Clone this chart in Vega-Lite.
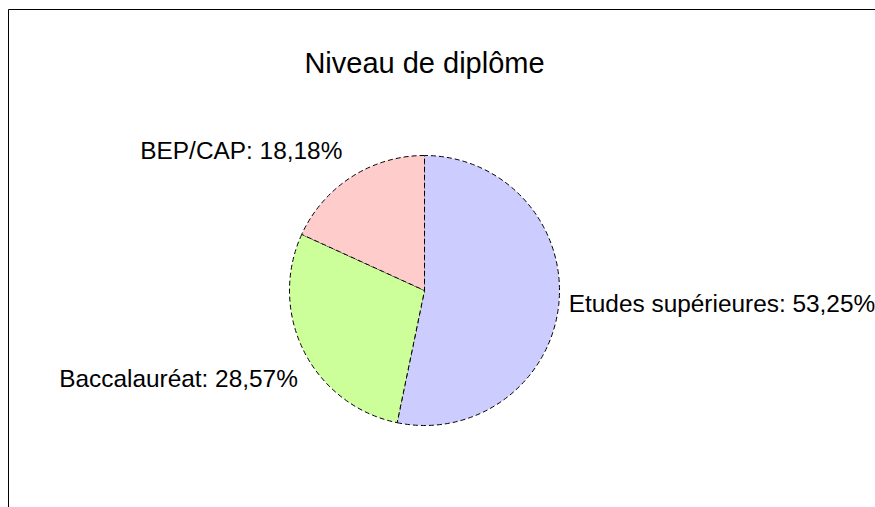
{
  "$schema": "https://vega.github.io/schema/vega-lite/v6.json",
  "width": 832,
  "height": 562,
  "autosize": {"type": "none"},
  "padding": {"left": 8.5, "top": 9.5, "right": 34.5, "bottom": 0},
  "background": "white",
  "config": {"view": {"stroke": null}, "font": "Liberation Sans"},
  "title": {
    "text": "Niveau de diplôme",
    "fontSize": 29,
    "fontWeight": "normal",
    "font": "Liberation Sans",
    "color": "black",
    "anchor": "middle",
    "baseline": "alphabetic",
    "offset": -93
  },
  "data": {
    "values": [
      {"cat": "Etudes supérieures", "pct": 53.25, "rank": 1, "label": "Etudes supérieures: 53,25%"},
      {"cat": "Baccalauréat", "pct": 28.57, "rank": 2, "label": "Baccalauréat: 28,57%"},
      {"cat": "BEP/CAP", "pct": 18.18, "rank": 3, "label": "BEP/CAP: 18,18%"}
    ]
  },
  "layer": [
    {
      "encoding": {
        "theta": {"field": "pct", "type": "quantitative", "stack": true},
        "order": {"field": "rank", "type": "quantitative", "sort": "ascending"}
      },
      "layer": [
        {
          "mark": {"type": "arc", "outerRadius": 135, "stroke": "black", "strokeWidth": 1, "strokeDash": [5, 3]},
          "encoding": {
            "color": {
              "field": "cat",
              "type": "nominal",
              "scale": {"domain": ["Etudes supérieures", "Baccalauréat", "BEP/CAP"], "range": ["#ccccff", "#ccff99", "#ffcccc"]},
              "legend": null
            }
          }
        },
        {
          "mark": {"type": "text", "radius": 145, "align": "left", "baseline": "middle", "fontSize": 24.4, "font": "Liberation Sans", "color": "black"},
          "encoding": {"text": {"condition": {"test": "datum.rank === 1", "field": "label"}, "value": ""}}
        },
        {
          "mark": {"type": "text", "radius": 152, "align": "right", "baseline": "alphabetic", "dy": -4, "fontSize": 24.4, "font": "Liberation Sans", "color": "black"},
          "encoding": {"text": {"condition": {"test": "datum.rank === 3", "field": "label"}, "value": ""}}
        },
        {
          "mark": {"type": "text", "radius": 142, "align": "right", "baseline": "alphabetic", "dy": 32, "fontSize": 24.4, "font": "Liberation Sans", "color": "black"},
          "encoding": {"text": {"condition": {"test": "datum.rank === 2", "field": "label"}, "value": ""}}
        }
      ]
    },
    {
      "data": {"values": [{"edge": "left"}]},
      "mark": {"type": "rule", "color": "black", "strokeWidth": 1},
      "encoding": {"x": {"value": 0}}
    },
    {
      "data": {"values": [{"edge": "top"}]},
      "mark": {"type": "rule", "color": "black", "strokeWidth": 1},
      "encoding": {"y": {"value": 0}, "x": {"value": 0}, "x2": {"value": {"expr": "width + 35"}}}
    }
  ]
}
